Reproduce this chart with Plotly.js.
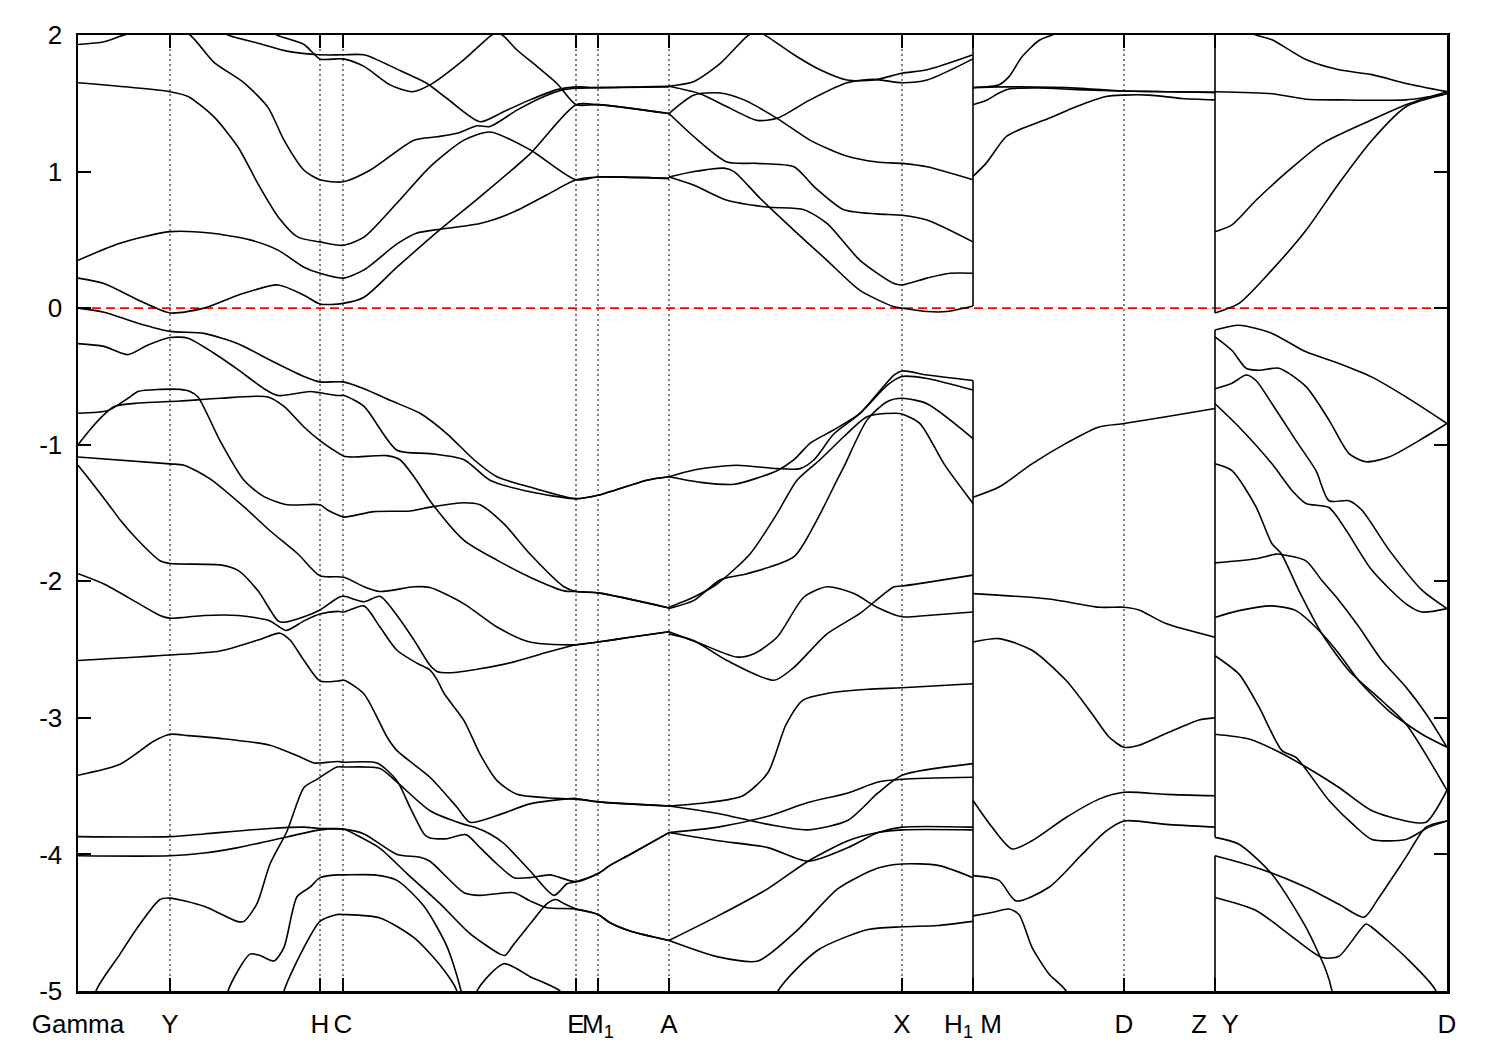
<!DOCTYPE html>
<html><head><meta charset="utf-8">
<script src="https://cdn.plot.ly/plotly-3.0.1.min.js"></script>
<style>body{margin:0;background:#fff}#plot{width:1500px;height:1050px}</style>
</head><body><div id="plot"></div>
<script>
// k-path positions of the high-symmetry points (path units) and their labels
const kTicks  = [0, 92, 242, 265, 498, 520, 591, 824, 895, 1046, 1137, 1369];
const kLabels = ['Gamma','Y','H','C','E','M<sub>1</sub>','A','X','H<sub>1</sub>\u00a0M','D','Z\u00a0\u00a0Y','D'];
const dottedAt = [92, 242, 265, 498, 520, 591, 824, 1046];
const yTicks = [-5,-4,-3,-2,-1,0,1,2];
const yTickText = ['-5','-4','-3','-2','-1','0','1','2'];
// band jumps at the path breaks (energy intervals covered by the vertical joins)
const jumpH1M = [[2.1, 0.015], [-0.53, -5.2]];
const jumpZY  = [[2.1, -0.035], [-0.16, -3.875], [-4.01, -5.2]];
const kH1M = 895, kZY = 1137;

// ---- bands: [k, E(eV)] ----
// Gamma - Y - H - C - E - M1 - A
const b01 = [[0,1.93],[26,1.95],[46,2.0],[72,2.05],[92,2.06],[112,2.0],[136,1.8],[166,1.65],[190,1.47],[206,1.23],[226,1.01],[242,0.94],[265,0.925],[292,1.01],[336,1.23],[359,1.255],[379,1.28],[399,1.335],[412,1.33],[439,1.45],[466,1.55],[486,1.60],[498,1.61],[520,1.615],[591,1.62]];
const b02 = [[140,2.05],[150,2.0],[180,1.94],[210,1.88],[242,1.855],[265,1.855],[286,1.855],[319,1.75],[349,1.645],[369,1.535],[402,1.365],[426,1.44],[452,1.525],[479,1.60],[498,1.62],[520,1.615],[591,1.625]];
const b03 = [[190,2.05],[199,2.0],[226,1.93],[242,1.825],[265,1.825],[286,1.77],[312,1.635],[334,1.585],[352,1.635],[386,1.82],[412,1.99],[419,2.02],[426,1.99],[439,1.89],[459,1.77],[479,1.645],[498,1.49],[520,1.49],[591,1.425]];
const b04 = [[0,1.65],[92,1.585],[110,1.55],[136,1.40],[160,1.18],[180,0.91],[200,0.67],[220,0.52],[242,0.485],[265,0.46],[286,0.52],[319,0.77],[352,1.035],[386,1.23],[412,1.29],[452,1.16],[498,0.94],[520,0.96],[591,0.95]];
const b05 = [[0,0.35],[42,0.475],[92,0.56],[132,0.55],[172,0.50],[200,0.425],[226,0.30],[242,0.255],[265,0.22],[286,0.28],[319,0.47],[339,0.55],[359,0.575],[402,0.62],[436,0.705],[469,0.83],[498,0.94],[520,0.96],[591,0.95]];
const b06 = [[0,0.22],[26,0.18],[60,0.06],[92,-0.035],[126,0.0],[160,0.095],[200,0.17],[226,0.095],[242,0.03],[265,0.035],[286,0.08],[319,0.30],[362,0.575],[402,0.815],[452,1.13],[498,1.49],[520,1.49],[591,1.425]];
const b07 = [[0,0.0],[26,-0.03],[60,-0.11],[92,-0.17],[126,-0.185],[160,-0.26],[192,-0.38],[226,-0.50],[242,-0.54],[265,-0.54],[286,-0.59],[312,-0.675],[342,-0.77],[369,-0.92],[396,-1.11],[419,-1.235],[452,-1.31],[498,-1.395],[520,-1.37],[569,-1.26],[591,-1.235]];
const b08 = [[0,-0.26],[26,-0.28],[50,-0.34],[70,-0.27],[92,-0.215],[110,-0.22],[136,-0.33],[160,-0.45],[186,-0.59],[200,-0.64],[232,-0.61],[242,-0.62],[260,-0.64],[266,-0.64],[286,-0.72],[319,-1.04],[352,-1.065],[386,-1.11],[412,-1.26],[452,-1.345],[498,-1.395],[520,-1.37],[569,-1.26],[591,-1.235]];
const b09 = [[0,-0.77],[30,-0.75],[50,-0.66],[60,-0.61],[82,-0.595],[102,-0.595],[112,-0.61],[120,-0.65],[142,-0.97],[166,-1.26],[186,-1.38],[210,-1.44],[242,-1.44],[250,-1.48],[260,-1.515],[266,-1.53],[296,-1.49],[332,-1.485],[354,-1.455],[386,-1.425],[402,-1.44],[426,-1.58],[452,-1.80],[486,-2.04],[498,-2.075],[520,-2.085],[591,-2.195]];
const b10 = [[0,-1.0],[12,-0.89],[26,-0.78],[36,-0.72],[60,-0.695],[102,-0.68],[142,-0.66],[190,-0.65],[206,-0.72],[226,-0.87],[242,-0.97],[260,-1.06],[266,-1.085],[276,-1.09],[309,-1.08],[322,-1.11],[336,-1.235],[354,-1.43],[386,-1.70],[419,-1.845],[452,-1.97],[486,-2.07],[498,-2.075],[520,-2.085],[591,-2.195]];
const b11 = [[0,-1.09],[92,-1.14],[106,-1.15],[132,-1.25],[166,-1.455],[192,-1.63],[220,-1.80],[242,-1.96],[266,-1.97],[286,-2.04],[302,-2.075],[336,-2.04],[352,-2.045],[386,-2.165],[419,-2.335],[452,-2.445],[498,-2.465],[520,-2.445],[552,-2.41],[591,-2.37]];
const b12 = [[0,-1.15],[12,-1.26],[36,-1.49],[42,-1.55],[60,-1.70],[82,-1.85],[92,-1.87],[142,-1.88],[160,-1.92],[180,-2.07],[200,-2.29],[206,-2.30],[226,-2.26],[242,-2.21],[260,-2.12],[266,-2.11],[286,-2.15],[302,-2.11],[319,-2.25],[336,-2.43],[352,-2.615],[359,-2.66],[372,-2.67],[402,-2.64],[436,-2.59],[469,-2.52],[498,-2.465],[520,-2.445],[552,-2.41],[591,-2.37]];
const b13 = [[0,-1.945],[26,-2.02],[60,-2.16],[82,-2.25],[92,-2.27],[126,-2.25],[160,-2.25],[192,-2.29],[208,-2.36],[226,-2.29],[242,-2.24],[260,-2.22],[266,-2.225],[286,-2.18],[302,-2.335],[319,-2.505],[339,-2.60],[352,-2.65],[359,-2.72],[366,-2.82],[386,-3.02],[402,-3.265],[419,-3.46],[439,-3.56],[469,-3.585],[498,-3.595],[520,-3.615],[591,-3.645]];
const b14 = [[0,-2.58],[92,-2.54],[142,-2.51],[180,-2.43],[202,-2.38],[212,-2.43],[226,-2.58],[242,-2.73],[260,-2.73],[266,-2.725],[286,-2.825],[309,-3.14],[319,-3.24],[352,-3.435],[379,-3.655],[392,-3.765],[419,-3.715],[452,-3.63],[486,-3.595],[498,-3.59],[520,-3.615],[591,-3.645]];
const b15 = [[0,-3.42],[42,-3.34],[76,-3.17],[92,-3.12],[110,-3.13],[142,-3.15],[192,-3.20],[220,-3.28],[236,-3.33],[242,-3.33],[260,-3.32],[266,-3.325],[299,-3.33],[319,-3.46],[332,-3.655],[346,-3.85],[352,-3.88],[369,-3.885],[388,-3.855],[402,-3.95],[419,-4.07],[436,-4.17],[452,-4.17],[472,-4.15],[498,-4.20],[520,-4.14],[532,-4.08],[552,-4.0],[591,-3.84]];
const b16 = [[12,-5.3],[18,-5.0],[42,-4.73],[59,-4.54],[82,-4.33],[92,-4.32],[126,-4.38],[159,-4.49],[166,-4.49],[179,-4.36],[192,-4.07],[209,-3.83],[226,-3.51],[239,-3.45],[259,-3.36],[266,-3.36],[302,-3.37],[319,-3.47],[352,-3.68],[386,-3.78],[396,-3.80],[412,-3.85],[426,-3.92],[452,-4.12],[476,-4.30],[489,-4.215],[498,-4.20],[520,-4.14],[532,-4.08],[552,-4.0],[591,-3.84]];
const b17 = [[0,-3.87],[92,-3.87],[126,-3.85],[192,-3.81],[226,-3.80],[242,-3.81],[266,-3.815],[286,-3.85],[319,-4.0],[342,-4.02],[352,-4.05],[386,-4.28],[402,-4.30],[436,-4.28],[452,-4.34],[469,-4.39],[498,-4.40],[520,-4.44],[532,-4.50],[552,-4.56],[591,-4.63]];
const b18 = [[0,-4.01],[92,-4.01],[126,-3.99],[160,-3.95],[210,-3.87],[242,-3.82],[266,-3.815],[279,-3.86],[302,-3.955],[329,-4.14],[362,-4.36],[392,-4.58],[422,-4.73],[427,-4.74],[436,-4.655],[452,-4.51],[469,-4.36],[478,-4.33],[486,-4.36],[498,-4.40],[520,-4.44],[532,-4.50],[552,-4.56],[591,-4.63]];
const b19 = [[145,-5.3],[150,-5.0],[172,-4.73],[182,-4.74],[196,-4.78],[206,-4.68],[219,-4.31],[232,-4.24],[242,-4.17],[259,-4.15],[266,-4.15],[296,-4.15],[319,-4.19],[346,-4.38],[369,-4.675],[383,-5.0],[388,-5.3]];
const b20 = [[200,-5.3],[206,-5.0],[226,-4.68],[242,-4.49],[259,-4.44],[266,-4.44],[302,-4.465],[336,-4.61],[362,-4.81],[379,-5.0],[384,-5.3]];
const b21 = [[394,-5.3],[399,-5.0],[426,-4.80],[452,-4.895],[482,-5.0],[490,-5.1]];
// A - X - H1
const a01 = [[591,1.625],[616,1.66],[642,1.79],[669,1.99],[679,2.03],[689,1.99],[716,1.855],[742,1.745],[769,1.67],[796,1.67],[824,1.72],[849,1.745],[895,1.855]];
const a02 = [[591,1.625],[622,1.57],[649,1.475],[679,1.375],[699,1.39],[732,1.525],[769,1.65],[796,1.675],[824,1.65],[849,1.67],[895,1.825]];
const a03 = [[591,1.425],[616,1.56],[642,1.575],[666,1.525],[699,1.39],[732,1.23],[766,1.12],[799,1.07],[824,1.06],[849,1.035],[895,0.94]];
const a04 = [[591,1.425],[616,1.255],[649,1.07],[679,1.06],[716,1.035],[736,0.89],[766,0.72],[799,0.69],[824,0.68],[849,0.645],[895,0.485]];
const a05 = [[591,0.96],[616,1.0],[646,1.025],[656,1.0],[682,0.805],[716,0.57],[749,0.35],[782,0.13],[816,0.01],[824,0.0],[849,-0.025],[869,-0.025],[895,0.015]];
const a06 = [[591,0.96],[616,0.90],[649,0.79],[689,0.74],[726,0.72],[749,0.62],[782,0.35],[816,0.18],[824,0.17],[849,0.22],[872,0.255],[895,0.255]];
const a07 = [[591,-1.235],[616,-1.185],[658,-1.15],[699,-1.175],[722,-1.175],[736,-1.11],[756,-0.92],[782,-0.77],[816,-0.49],[824,-0.46],[849,-0.49],[895,-0.53]];
const a08 = [[591,-1.235],[622,-1.275],[656,-1.29],[699,-1.19],[716,-1.11],[732,-0.99],[756,-0.89],[782,-0.77],[809,-0.565],[824,-0.50],[849,-0.515],[895,-0.60]];
const a09 = [[591,-2.19],[616,-2.115],[639,-2.02],[672,-1.80],[699,-1.505],[719,-1.26],[742,-1.11],[766,-0.94],[789,-0.795],[816,-0.77],[824,-0.775],[842,-0.845],[866,-1.14],[895,-1.43]];
const a10 = [[591,-2.20],[616,-2.14],[642,-1.99],[669,-1.945],[716,-1.82],[739,-1.55],[759,-1.26],[766,-1.16],[789,-0.82],[809,-0.685],[824,-0.66],[849,-0.70],[895,-0.955]];
const a11 = [[591,-2.37],[622,-2.455],[659,-2.555],[676,-2.53],[699,-2.41],[726,-2.115],[749,-2.04],[776,-2.09],[799,-2.19],[824,-2.26],[849,-2.25],[895,-2.225]];
const a12 = [[591,-2.385],[616,-2.435],[649,-2.58],[696,-2.725],[716,-2.63],[749,-2.385],[782,-2.235],[816,-2.04],[824,-2.035],[895,-1.955]];
const a13 = [[591,-3.645],[630,-3.62],[665,-3.57],[690,-3.40],[708,-3.05],[725,-2.87],[750,-2.82],[790,-2.79],[824,-2.78],[895,-2.75]];
const a14 = [[591,-3.645],[640,-3.70],[690,-3.78],[730,-3.82],[770,-3.75],[800,-3.55],[824,-3.42],[895,-3.335]];
const a15 = [[591,-3.84],[640,-3.80],[690,-3.72],[730,-3.62],[770,-3.55],[800,-3.47],[824,-3.45],[895,-3.435]];
const a16 = [[591,-3.84],[640,-3.90],[690,-3.95],[730,-4.05],[770,-3.95],[800,-3.84],[824,-3.80],[895,-3.80]];
const a17 = [[591,-4.63],[640,-4.45],[690,-4.25],[730,-4.05],[770,-3.90],[800,-3.84],[824,-3.82],[895,-3.82]];
const a18 = [[591,-4.63],[640,-4.75],[680,-4.78],[720,-4.55],[760,-4.25],[800,-4.10],[824,-4.07],[860,-4.08],[895,-4.17]];
const a19 = [[690,-5.3],[700,-5.0],[740,-4.70],[790,-4.55],[824,-4.53],[860,-4.52],[895,-4.49]];
// M - D - Z
const m01 = [[895,1.615],[921,1.635],[931,1.695],[944,1.84],[961,1.96],[974,2.0],[990,2.06]];
const m02 = [[895,1.615],[921,1.62],[940,1.62],[988,1.615],[1046,1.59],[1088,1.585],[1137,1.58]];
const m03 = [[895,1.49],[908,1.52],[921,1.575],[931,1.605],[960,1.612],[1000,1.60],[1046,1.59],[1088,1.585],[1137,1.58]];
const m04 = [[895,0.965],[908,1.06],[928,1.255],[944,1.315],[971,1.39],[998,1.475],[1028,1.55],[1046,1.56],[1071,1.56],[1104,1.535],[1137,1.525]];
const m05 = [[895,-1.385],[921,-1.31],[954,-1.14],[988,-0.99],[1021,-0.87],[1046,-0.845],[1088,-0.795],[1137,-0.735]];
const m06 = [[895,-2.09],[971,-2.13],[1021,-2.19],[1046,-2.19],[1061,-2.21],[1088,-2.31],[1137,-2.41]];
const m07 = [[895,-2.445],[921,-2.42],[954,-2.505],[988,-2.725],[1014,-2.97],[1031,-3.14],[1046,-3.215],[1061,-3.20],[1088,-3.115],[1121,-3.015],[1137,-3.0]];
const m08 = [[895,-3.605],[914,-3.80],[934,-3.96],[954,-3.90],[988,-3.73],[1021,-3.595],[1046,-3.545],[1088,-3.56],[1137,-3.57]];
const m09 = [[895,-4.155],[921,-4.19],[938,-4.34],[971,-4.24],[1004,-4.0],[1028,-3.83],[1046,-3.755],[1088,-3.78],[1137,-3.80]];
const m10 = [[895,-4.45],[914,-4.425],[931,-4.40],[941,-4.44],[954,-4.68],[971,-4.875],[988,-5.0],[994,-5.2]];
// Y - D
const y01 = [[1160,2.06],[1178,2.0],[1194,1.965],[1228,1.82],[1261,1.745],[1294,1.71],[1328,1.645],[1369,1.585]];
const y02 = [[1137,1.585],[1194,1.57],[1228,1.53],[1261,1.525],[1328,1.525],[1369,1.57]];
const y03 = [[1137,0.56],[1154,0.61],[1178,0.79],[1211,1.01],[1244,1.205],[1294,1.38],[1328,1.49],[1369,1.585]];
const y04 = [[1137,-0.035],[1161,0.035],[1194,0.28],[1228,0.57],[1261,0.915],[1294,1.23],[1328,1.475],[1369,1.57]];
const y05 = [[1137,-0.16],[1161,-0.125],[1194,-0.185],[1228,-0.32],[1261,-0.405],[1294,-0.505],[1328,-0.65],[1369,-0.845]];
const y06 = [[1137,-0.21],[1154,-0.31],[1168,-0.44],[1181,-0.455],[1201,-0.44],[1228,-0.575],[1251,-0.82],[1271,-1.065],[1288,-1.125],[1311,-1.09],[1341,-0.97],[1369,-0.845]];
const y07 = [[1137,-0.59],[1154,-0.55],[1168,-0.49],[1178,-0.53],[1194,-0.70],[1218,-0.97],[1238,-1.19],[1251,-1.41],[1271,-1.41],[1284,-1.48],[1311,-1.77],[1344,-2.065],[1369,-2.20]];
const y08 = [[1137,-0.70],[1161,-0.87],[1194,-1.14],[1214,-1.335],[1228,-1.43],[1251,-1.46],[1268,-1.625],[1294,-1.92],[1328,-2.165],[1344,-2.225],[1369,-2.20]];
const y09 = [[1137,-1.14],[1154,-1.19],[1178,-1.455],[1194,-1.725],[1203,-1.795],[1221,-2.07],[1244,-2.385],[1271,-2.655],[1304,-2.875],[1328,-3.045],[1369,-3.53]];
const y10 = [[1137,-1.865],[1178,-1.835],[1199,-1.80],[1208,-1.81],[1228,-1.85],[1244,-1.995],[1261,-2.14],[1281,-2.335],[1304,-2.58],[1328,-2.775],[1348,-2.97],[1369,-3.215]];
const y11 = [[1137,-2.265],[1161,-2.215],[1194,-2.18],[1218,-2.215],[1241,-2.36],[1261,-2.53],[1281,-2.73],[1311,-2.95],[1344,-3.12],[1369,-3.215]];
const y12 = [[1137,-2.545],[1161,-2.68],[1181,-2.92],[1204,-3.24],[1218,-3.29],[1251,-3.605],[1278,-3.80],[1294,-3.89],[1328,-3.89],[1351,-3.80],[1369,-3.755]];
const y13 = [[1137,-3.12],[1171,-3.155],[1201,-3.25],[1228,-3.36],[1261,-3.51],[1294,-3.68],[1328,-3.755],[1348,-3.765],[1369,-3.53]];
const y14 = [[1137,-3.875],[1161,-3.925],[1194,-4.145],[1228,-4.535],[1248,-4.85],[1254,-5.0],[1257,-5.2]];
const y15 = [[1137,-4.01],[1178,-4.095],[1228,-4.24],[1261,-4.365],[1286,-4.46],[1301,-4.315],[1328,-4.02],[1348,-3.80],[1369,-3.755]];
const y16 = [[1137,-4.315],[1178,-4.41],[1211,-4.585],[1244,-4.755],[1261,-4.745],[1288,-4.51],[1294,-4.535],[1328,-4.755],[1358,-5.0],[1362,-5.2]];

const bands = [b01,b02,b03,b04,b05,b06,b07,b08,b09,b10,b11,b12,b13,b14,b15,b16,b17,b18,b19,b20,b21,
  a01,a02,a03,a04,a05,a06,a07,a08,a09,a10,a11,a12,a13,a14,a15,a16,a17,a18,a19,
  m01,m02,m03,m04,m05,m06,m07,m08,m09,m10,
  y01,y02,y03,y04,y05,y06,y07,y08,y09,y10,y11,y12,y13,y14,y15,y16];

const traces = [];
dottedAt.forEach(k => traces.push({x:[k,k], y:[-5,2], mode:'lines', line:{color:'#000', width:1, dash:'2px,3px'}, hoverinfo:'skip', showlegend:false}));
traces.push({x:[0,1369], y:[0,0], mode:'lines', line:{color:'#ff0000', width:1.6, dash:'9px,5px'}, hoverinfo:'skip', showlegend:false});
jumpH1M.forEach(s => traces.push({x:[kH1M,kH1M], y:s, mode:'lines', line:{color:'#000', width:1.6}, hoverinfo:'skip', showlegend:false}));
jumpZY.forEach(s => traces.push({x:[kZY,kZY], y:s, mode:'lines', line:{color:'#000', width:1.6}, hoverinfo:'skip', showlegend:false}));
bands.forEach(b => traces.push({x:b.map(p=>p[0]), y:b.map(p=>p[1]), mode:'lines',
  line:{color:'#000', width:1.6, shape:'spline', smoothing:0.7}, hoverinfo:'skip', showlegend:false}));

const font = {family:'Liberation Sans, Arial, Helvetica, sans-serif', size:26, color:'#000'};
const layout = {
  width:1500, height:1050,
  margin:{l:78, r:53, t:35, b:59, pad:0},
  paper_bgcolor:'#fff', plot_bgcolor:'#fff',
  showlegend:false,
  font: font,
  xaxis:{range:[0,1369], tickvals:kTicks, ticktext:kLabels, tickangle:0, ticks:'inside', ticklen:13, tickwidth:2, tickcolor:'#000',
    showline:true, linewidth:2.5, linecolor:'#000', mirror:'ticks', showgrid:false, zeroline:false, tickfont:font, ticklabelstandoff:8},
  yaxis:{range:[-5,2], tickvals:yTicks, ticktext:yTickText, ticks:'inside', ticklen:13, tickwidth:2, tickcolor:'#000',
    showline:true, linewidth:2.5, linecolor:'#000', mirror:'ticks', showgrid:false, zeroline:false, tickfont:font, ticklabelstandoff:8}
};
Plotly.newPlot('plot', traces, layout, {staticPlot:true});
</script>
</body></html>
